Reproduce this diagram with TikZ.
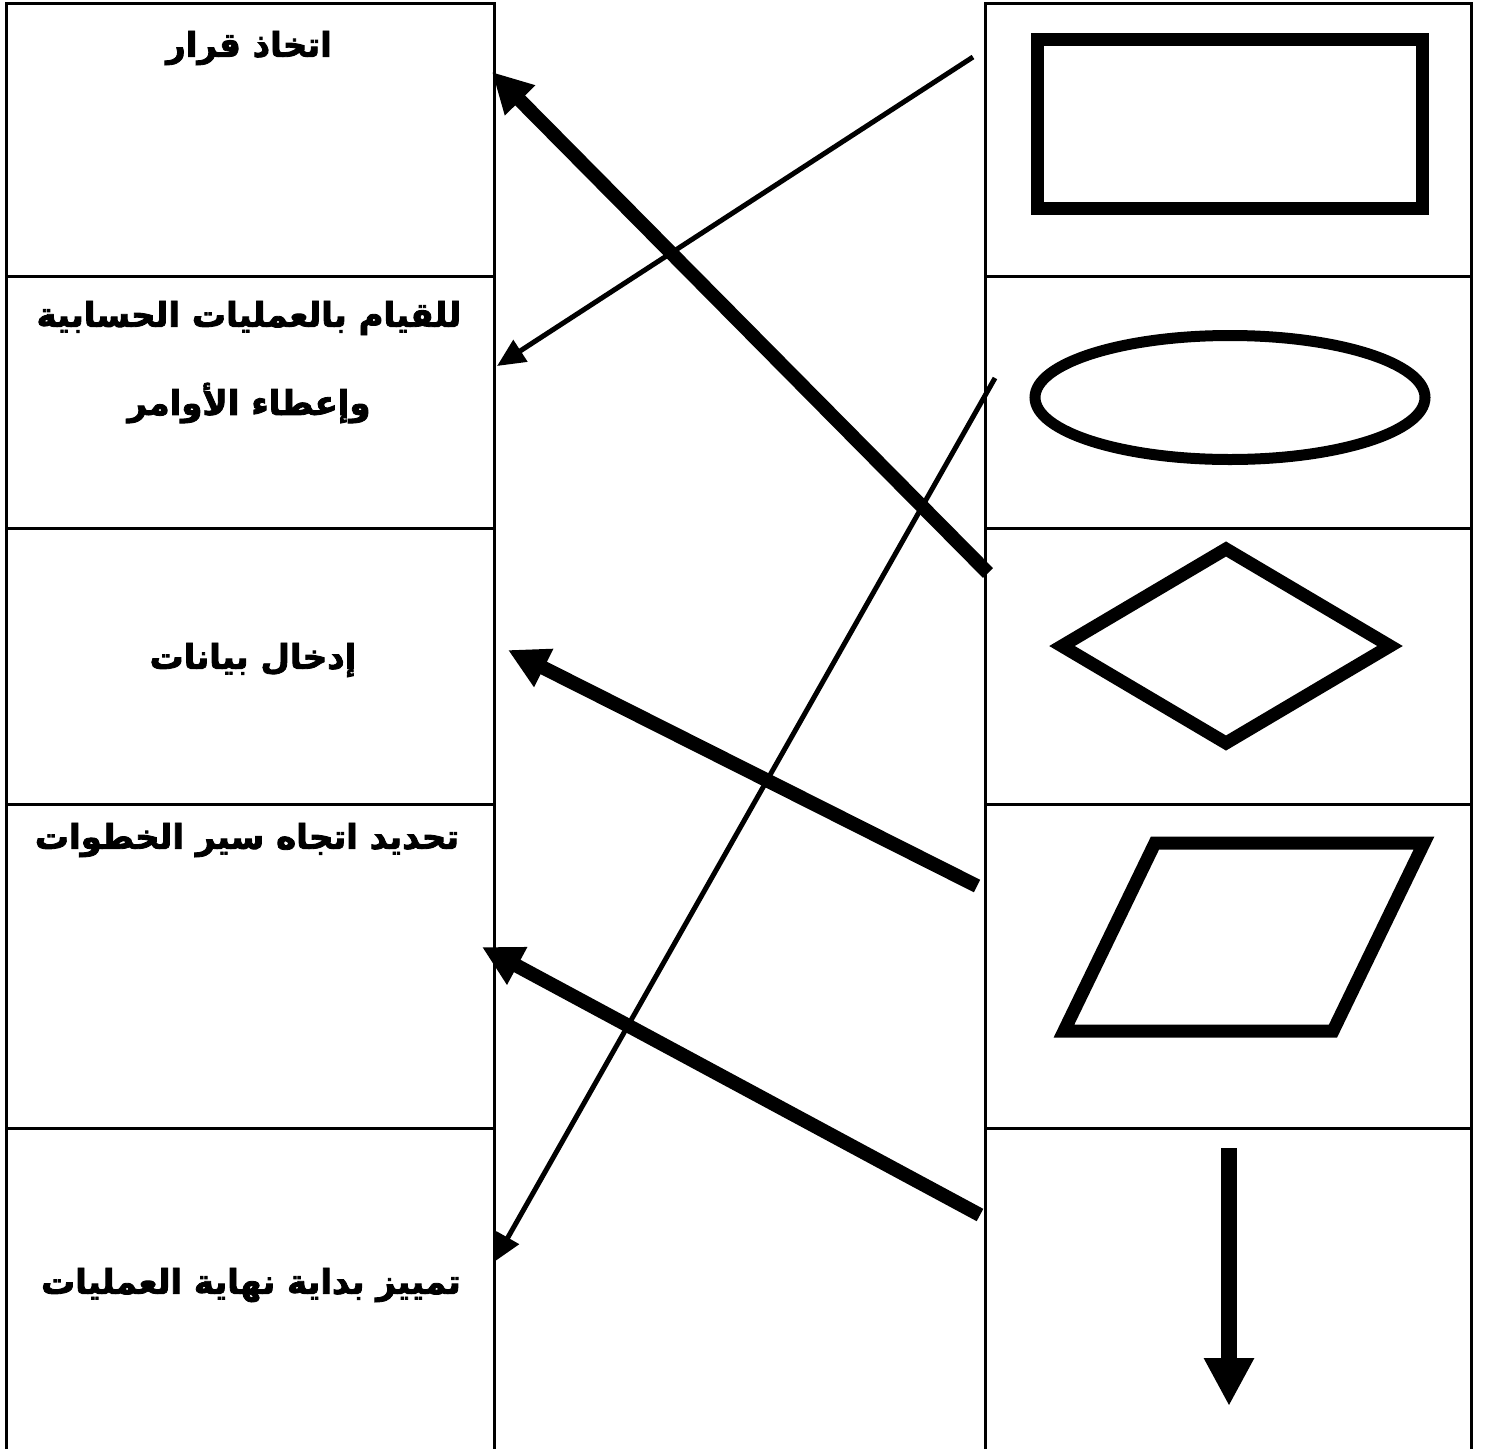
\documentclass[tikz,border=0pt]{standalone}
\usepackage{fontspec}
\newfontfamily\arabicfont[Script=Arabic,FakeBold=2.5]{DejaVu Sans Bold}
\TeXXeTstate=1
\usetikzlibrary{arrows.meta}
\begin{document}
\begin{tikzpicture}[x=1pt,y=-1pt,
  grid/.style={line width=3pt},
  shapeline/.style={line width=13pt, line join=miter},
  lbl/.style={font=\arabicfont\fontsize{34}{40}\selectfont, inner sep=0pt},
  thinarrow/.style={line width=5pt, -{Triangle[length=28pt,width=25pt]}},
  thickarrow/.style={line width=14pt, -{Triangle[length=40pt,width=40pt]}}]
\useasboundingbox (0,0) rectangle (1486,1449);
\fill[white] (0,0) rectangle (1486,1449);
% left column table
\draw[grid] (6,1449) -- (6,3) -- (494,3) -- (494,1449);
\foreach \yy in {276,528,804,1128} \draw[grid] (6,\yy) -- (494,\yy);
% right column table
\draw[grid] (985,1449) -- (985,3) -- (1471,3) -- (1471,1449);
\foreach \yy in {276,528,804,1128} \draw[grid] (985,\yy) -- (1471,\yy);
% labels
\node[lbl] (t1) at (249,48) {\beginR اتخاذ قرار\endR};
\node[lbl] (t2a) at (249,318) {\beginR للقيام بالعمليات الحسابية\endR};
\node[lbl] (t2b) at (249,403) {\beginR وإعطاء الأوامر\endR};
\node[lbl] (t3) at (253,660) {\beginR إدخال بيانات\endR};
\node[lbl] (t4) at (247,840) {\beginR تحديد اتجاه سير الخطوات\endR};
\node[lbl] (t5) at (251,1285) {\beginR تمييز بداية نهاية العمليات\endR};
% shapes
\draw[shapeline] (1037,39) rectangle (1422,208);
\draw[line width=11pt] (1230,397.5) ellipse [x radius=195, y radius=62];
\draw[shapeline] (1226,549) -- (1390,646) -- (1226,743) -- (1062,646) -- cycle;
\draw[shapeline] (1155,843) -- (1424,843) -- (1333,1031) -- (1064,1031) -- cycle;
\coordinate (fa) at (1229,1148);
\coordinate (fb) at (1229,1406);
\draw[line width=16pt, -{Triangle[length=48pt,width=47pt]}] (fa) -- (fb);
% connector endpoints
\coordinate (s1) at (973,57);   \coordinate (e1) at (497,366);
\coordinate (s2) at (988,573);  \coordinate (e2) at (492,72);
\coordinate (s3) at (995,378);  \coordinate (e3) at (494,1262);
\coordinate (s4) at (977,886);  \coordinate (e4) at (508,650);
\coordinate (s5) at (980,1215); \coordinate (e5) at (482,947);
\draw[thinarrow] (s1) -- (e1);
\draw[thickarrow] (s2) -- (e2);
\draw[thinarrow] (s3) -- (e3);
\draw[thickarrow] (s4) -- (e4);
\draw[thickarrow] (s5) -- (e5);
\end{tikzpicture}
\end{document}
